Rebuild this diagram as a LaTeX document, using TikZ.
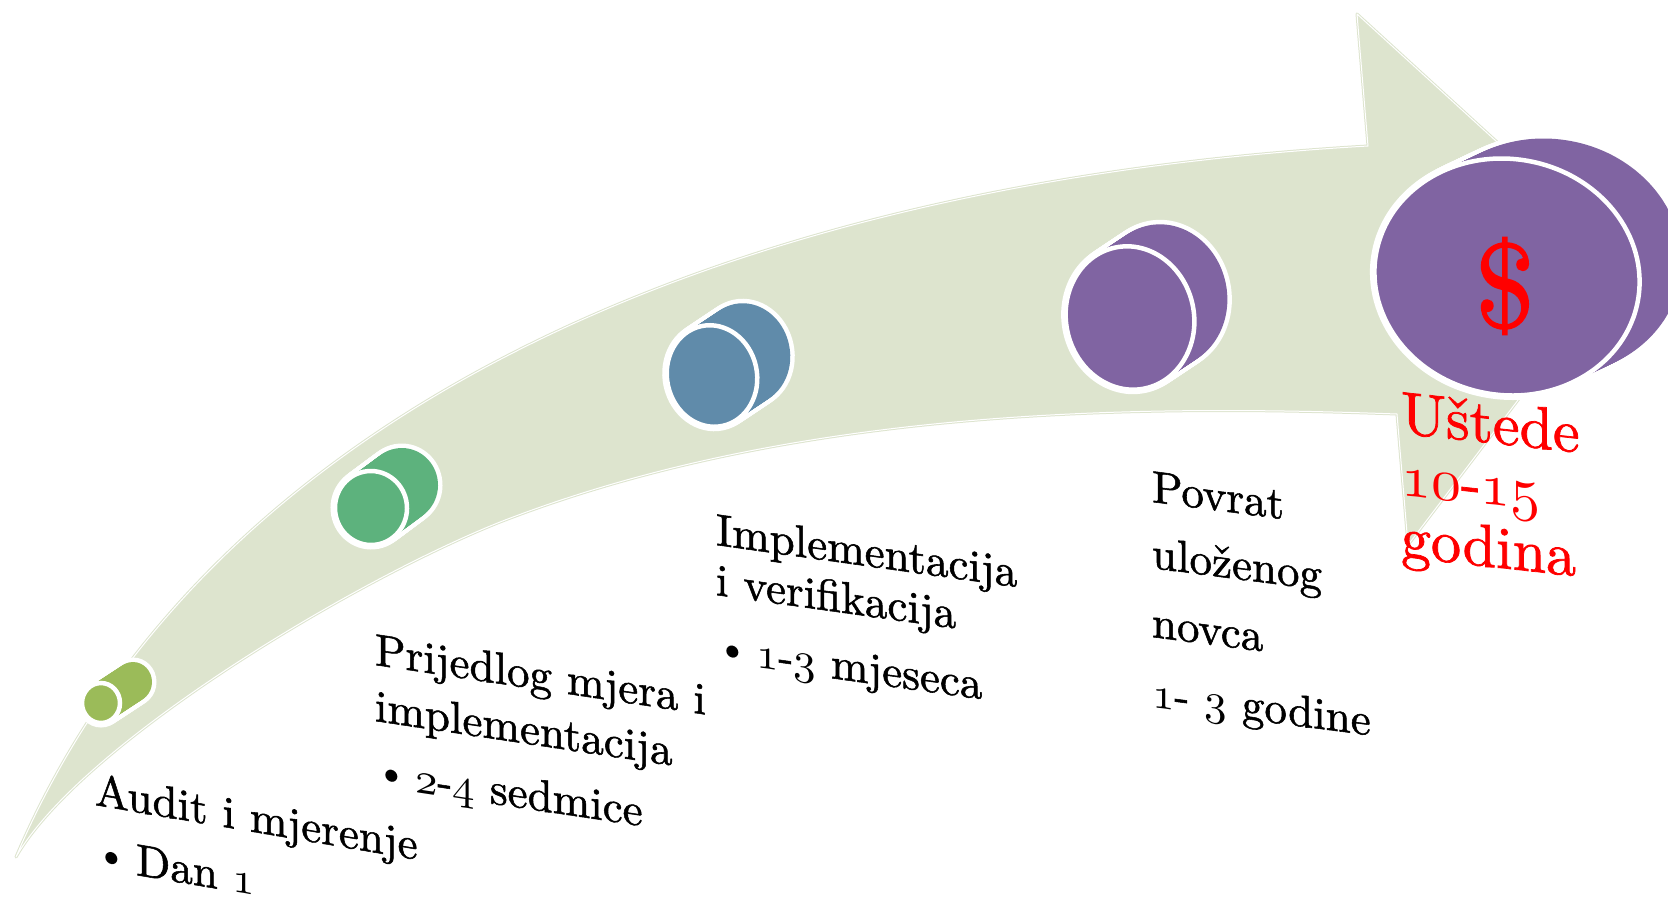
\documentclass[tikz,border=0pt]{standalone}
\usepackage{tikz}
\definecolor{arrowfill}{RGB}{221,228,206}
\definecolor{cgreenA}{RGB}{155,187,89}
\definecolor{cgreenB}{RGB}{93,178,125}
\definecolor{cblue}{RGB}{96,139,170}
\definecolor{cpurple}{RGB}{128,100,162}
\font\txtfA="[lmroman10-regular]:embolden=1.2" at 45pt
\font\txtfR="[lmroman10-regular]:embolden=1.2" at 60pt
\font\txtfD="[lmroman10-regular]:embolden=1.5" at 120pt
\font\bulf="[lmroman10-regular]" at 42pt
\font\osnA=cmmi10 at 45pt
\font\osnR=cmmi10 at 60pt
\newcommand\osn[1]{{\osnA #1}}
\newcommand\osnr[1]{{\osnR #1}}
\newcommand\bul{\raisebox{3pt}{\bulf\char"2022}}
% front x, front y, dx, dy, rx, ry, rotation, colour
\newcommand\drawcyl[8]{%
  \foreach \s in {0,0.04,...,1.0001}{%
    \draw[white, line width=9pt, shift={({#1+\s*#3},{#2+\s*#4})}, rotate=#7] (0,0) ellipse [x radius=#5, y radius=#6];}%
  \foreach \s in {0,0.04,...,1.0001}{%
    \fill[#8, shift={({#1+\s*#3},{#2+\s*#4})}, rotate=#7] (0,0) ellipse [x radius=#5, y radius=#6];}%
  \draw[white, line width=4.5pt, fill=#8, shift={(#1,#2)}, rotate=#7] (0,0) ellipse [x radius=#5, y radius=#6];}
\tikzset{
  lbl/.style={anchor=base west, inner sep=0pt, outer sep=0pt, transform shape, font=\txtfA},
  redlbl/.style={lbl, text=red, font=\txtfR},
  arrowbody/.style={fill=arrowfill, draw=arrowfill, double=white, double distance=1pt, line width=1pt, line join=round}
}
\begin{document}
\begin{tikzpicture}[x=1pt, y=-1pt]
\useasboundingbox (0,0) rectangle (1668,897);
% big curved arrow
\path[arrowbody] (16,857) .. controls (200,425) and (700,185) .. (1368,146)
  -- (1357,14) -- (1625,259) -- (1408,545) -- (1397,414)
  .. controls (1150,405) and (800,405) .. (500,522)
  .. controls (350,582) and (80,745) .. (16,857) -- cycle;
% cylinders
\drawcyl{101}{703}{32}{-21}{19}{20}{0}{cgreenA}
\drawcyl{371}{508}{31}{-23}{36}{37}{5}{cgreenB}
\drawcyl{712}{376}{33}{-22}{45}{51}{12}{cblue}
\drawcyl{1130}{318}{33}{-22}{64}{72}{12}{cpurple}
\drawcyl{1507}{277}{42}{-20}{133}{118}{-10}{cpurple}
\node[text=red, font=\txtfD, inner sep=0pt] (dollar) at (1505,286) {\$};
% texts
\node[lbl, yslant=-0.17] (a1) at (95,805) {Audit i mjerenje};
\node[lbl, yslant=-0.17] (a2) at (95,868) {\makebox[41pt][l]{\bul}Dan \osn{1}};
\node[lbl, yslant=-0.15] (b1) at (375,665) {Prijedlog mjera i};
\node[lbl, yslant=-0.15] (b2) at (375,721) {implementacija};
\node[lbl, yslant=-0.15] (b3) at (375,786) {\makebox[40pt][l]{\bul}\osn{2}-\osn{4} sedmice};
\node[lbl, yslant=-0.14] (c1) at (716,545) {Implementacija};
\node[lbl, yslant=-0.14] (c2) at (716,595) {i verifikacija};
\node[lbl, yslant=-0.14] (c3) at (716,662) {\makebox[40pt][l]{\bul}\osn{1}-\osn{3} mjeseca};
\node[lbl, yslant=-0.13] (d1) at (1152,502) {Povrat};
\node[lbl, yslant=-0.13] (d2) at (1152,568) {uloženog};
\node[lbl, yslant=-0.13] (d3) at (1152,637) {novca};
\node[lbl, yslant=-0.13] (d4) at (1152,707) {\osn{1}- \osn{3} godine};
\node[redlbl, yslant=-0.11] (e1) at (1401,433) {Uštede};
\node[redlbl, yslant=-0.11] (e2) at (1401,495) {\osnr{10}-\osnr{15}};
\node[redlbl, yslant=-0.11] (e3) at (1401,557) {godina};
\end{tikzpicture}
\end{document}
